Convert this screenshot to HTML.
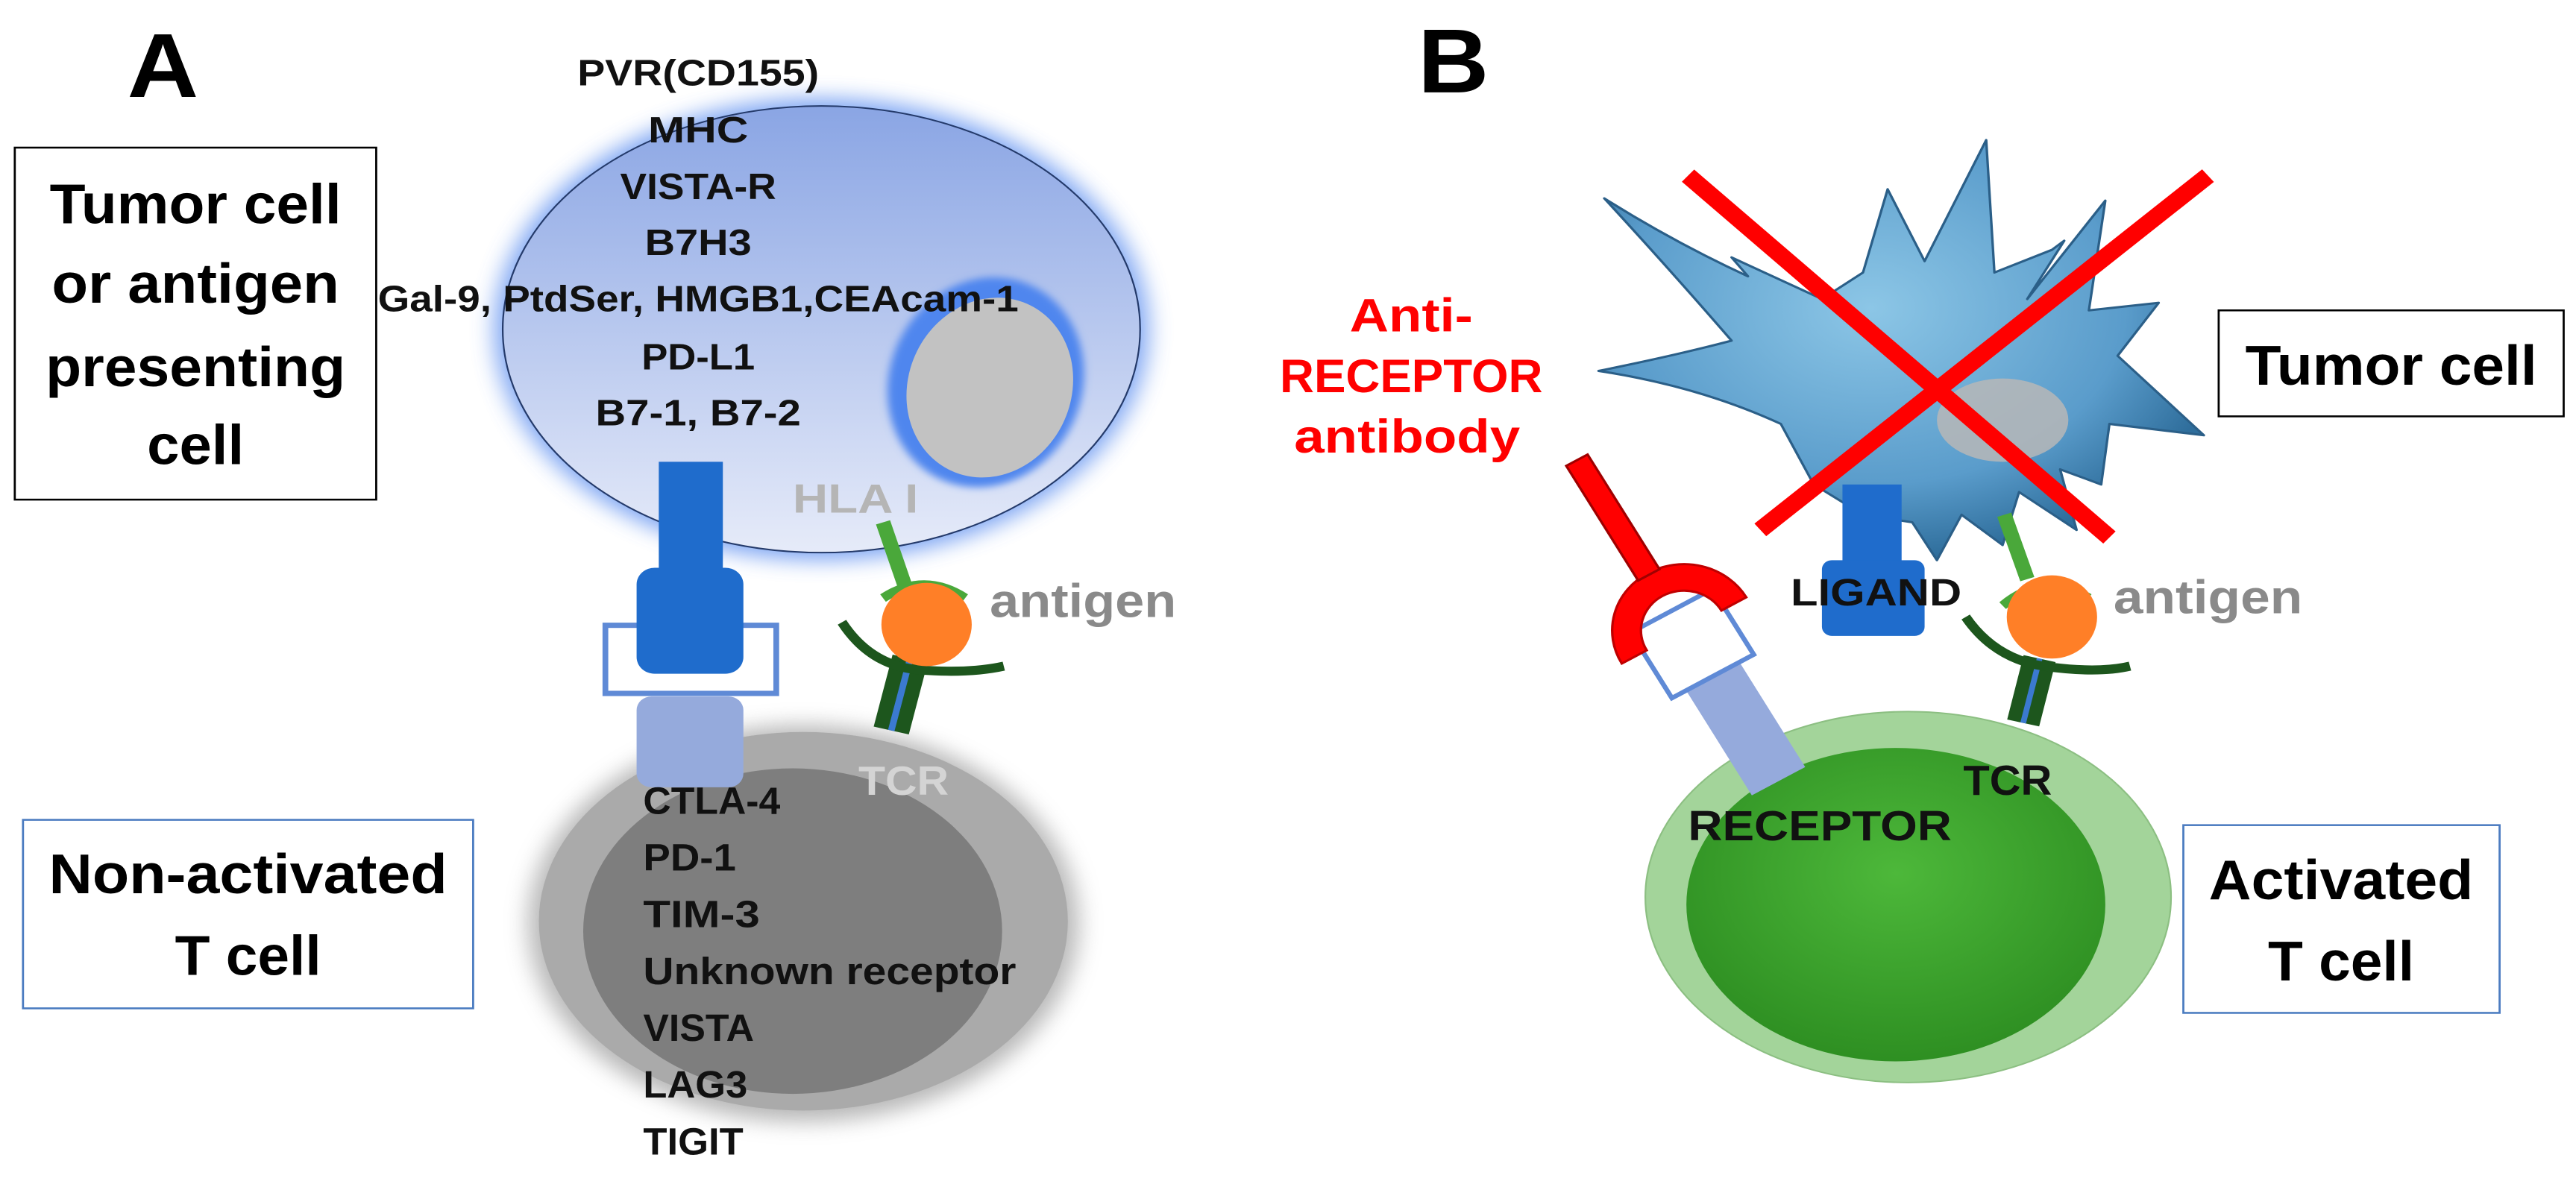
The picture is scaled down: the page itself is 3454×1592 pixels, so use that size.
<!DOCTYPE html>
<html><head><meta charset="utf-8"><style>
html,body{margin:0;padding:0;background:#fff;width:3454px;height:1592px;overflow:hidden}
text{font-family:"Liberation Sans",sans-serif;font-weight:bold}
</style></head><body>
<svg width="3454" height="1592" viewBox="0 0 3454 1592" xmlns="http://www.w3.org/2000/svg">
<defs>
<linearGradient id="cellA" x1="0" y1="0" x2="0" y2="1"><stop offset="0" stop-color="#8aa5e4"/><stop offset="1" stop-color="#e6ebf9"/></linearGradient>
<filter id="glow" x="-20%" y="-20%" width="140%" height="140%"><feGaussianBlur stdDeviation="14"/></filter>
<filter id="blur4"><feGaussianBlur stdDeviation="5"/></filter>
<radialGradient id="tum" cx="0.45" cy="0.4" r="0.6"><stop offset="0" stop-color="#8cc6e6"/><stop offset="0.7" stop-color="#5a9ccb"/><stop offset="1" stop-color="#2f6e9c"/></radialGradient>
<radialGradient id="grn" cx="0.5" cy="0.4" r="0.6"><stop offset="0" stop-color="#4db83a"/><stop offset="1" stop-color="#2e8f22"/></radialGradient>
</defs>

<!-- LEFT PANEL -->
<g transform="scale(1.1014,1.0153)">
<text x="155" y="128" font-size="120">A</text>
<rect x="18" y="195" width="440" height="465" fill="none" stroke="#000" stroke-width="2.5"/>
<g font-size="74" text-anchor="middle">
<text x="238" y="295" textLength="355" lengthAdjust="spacingAndGlyphs">Tumor cell</text>
<text x="238" y="400" textLength="350" lengthAdjust="spacingAndGlyphs">or antigen</text>
<text x="238" y="510" textLength="365" lengthAdjust="spacingAndGlyphs">presenting</text>
<text x="238" y="613" textLength="118" lengthAdjust="spacingAndGlyphs">cell</text>
</g>
<ellipse cx="1000" cy="435" rx="398" ry="305" fill="#5d8ff0" filter="url(#glow)" opacity="0.8"/>
<ellipse cx="1000" cy="435" rx="388" ry="295" fill="url(#cellA)" stroke="#243a6a" stroke-width="2"/>
<ellipse cx="1200" cy="505" rx="118" ry="140" transform="rotate(15 1200 505)" fill="#4f86ee" filter="url(#blur4)"/>
<ellipse cx="1205" cy="512" rx="100" ry="120" transform="rotate(15 1205 512)" fill="#c2c2c2"/>
<g font-size="48" text-anchor="middle" fill="#111">
<text x="850" y="113" textLength="294" lengthAdjust="spacingAndGlyphs">PVR(CD155)</text>
<text x="850" y="188" textLength="122" lengthAdjust="spacingAndGlyphs">MHC</text>
<text x="850" y="263" textLength="190" lengthAdjust="spacingAndGlyphs">VISTA-R</text>
<text x="850" y="337" textLength="130" lengthAdjust="spacingAndGlyphs">B7H3</text>
<text x="850" y="411" textLength="780" lengthAdjust="spacingAndGlyphs">Gal-9, PtdSer, HMGB1,CEAcam-1</text>
<text x="850" y="488" textLength="138" lengthAdjust="spacingAndGlyphs">PD-L1</text>
<text x="850" y="562" textLength="250" lengthAdjust="spacingAndGlyphs">B7-1, B7-2</text>
</g>
<text x="965" y="677" font-size="54" fill="#b5b5b5" textLength="153" lengthAdjust="spacingAndGlyphs">HLA I</text>
<ellipse cx="978" cy="1220" rx="335" ry="262" fill="#999" filter="url(#glow)" opacity="0.7"/>
<ellipse cx="978" cy="1217" rx="322" ry="250" fill="#aaaaaa"/>
<ellipse cx="965" cy="1230" rx="255" ry="215" fill="#7e7e7e"/>
<rect x="775" y="920" width="130" height="120" rx="18" fill="#95aadc"/>
<rect x="737" y="826" width="208" height="90" fill="#fff" stroke="#5f8ad6" stroke-width="7"/>
<rect x="802" y="610" width="78" height="160" fill="#1f6ccc"/>
<rect x="775" y="750" width="130" height="140" rx="22" fill="#1f6ccc"/>
<line x1="1075" y1="690" x2="1102" y2="775" stroke="#4aa83a" stroke-width="18"/>
<path d="M1075 790 Q1125 755 1175 790" fill="none" stroke="#4aa83a" stroke-width="12"/>
<line x1="1108" y1="870" x2="1085" y2="965" stroke="#1d561d" stroke-width="44"/>
<line x1="1108" y1="870" x2="1085" y2="965" stroke="#3b7ad0" stroke-width="8"/>
<path d="M1025 822 Q1060 880 1120 885 Q1180 890 1222 880" fill="none" stroke="#1d561d" stroke-width="12"/>
<circle cx="1128" cy="825" r="55" fill="#ff7f27"/>
<text x="1205" y="815" font-size="62" fill="#8a8a8a" textLength="227" lengthAdjust="spacingAndGlyphs">antigen</text>
<text x="1045" y="1050" font-size="54" fill="#d4d4d4" textLength="110" lengthAdjust="spacingAndGlyphs">TCR</text>
<g font-size="50" fill="#111">
<text x="783" y="1075" textLength="167" lengthAdjust="spacingAndGlyphs">CTLA-4</text>
<text x="783" y="1150" textLength="113" lengthAdjust="spacingAndGlyphs">PD-1</text>
<text x="783" y="1225" textLength="142" lengthAdjust="spacingAndGlyphs">TIM-3</text>
<text x="783" y="1300" textLength="454" lengthAdjust="spacingAndGlyphs">Unknown receptor</text>
<text x="783" y="1375" textLength="135" lengthAdjust="spacingAndGlyphs">VISTA</text>
<text x="783" y="1450" textLength="127" lengthAdjust="spacingAndGlyphs">LAG3</text>
<text x="783" y="1525" textLength="122" lengthAdjust="spacingAndGlyphs">TIGIT</text>
</g>
<rect x="28" y="1083" width="548" height="249" fill="none" stroke="#4a7bc0" stroke-width="2.5"/>
<g font-size="74" text-anchor="middle">
<text x="302" y="1180" textLength="485" lengthAdjust="spacingAndGlyphs">Non-activated</text>
<text x="302" y="1288" textLength="178" lengthAdjust="spacingAndGlyphs">T cell</text>
</g>
</g>

<!-- RIGHT PANEL -->
<g transform="translate(1727,0) scale(1.1014,1.0153)">
<text x="158" y="122" font-size="120">B</text>
<path d="M385 262 Q470 320 560 365 L540 340 Q600 370 650 395 L700 360 L730 250 L775 345 L850 185 L860 360 L930 330 L945 318 L900 395 L995 265 L975 410 L1060 400 L1010 470 L1115 575 L1000 560 L990 640 L940 620 L960 700 L890 650 L870 720 L820 680 L790 740 L760 690 L700 680 L640 640 L600 560 Q500 510 378 490 Q470 470 540 450 Q460 350 385 262 Z" fill="url(#tum)" stroke="#2b5f88" stroke-width="3" stroke-linejoin="round"/>
<ellipse cx="870" cy="555" rx="80" ry="55" fill="#b7b7b7" opacity="0.85"/>
<rect x="675" y="640" width="72" height="110" fill="#1f6ccc"/>
<rect x="650" y="740" width="125" height="100" rx="12" fill="#1f6ccc"/>
<text x="612" y="800" font-size="50" fill="#111" textLength="208" lengthAdjust="spacingAndGlyphs">LIGAND</text>
<line x1="487" y1="232" x2="1000" y2="710" stroke="#ff0000" stroke-width="22"/>
<line x1="1120" y1="232" x2="575" y2="700" stroke="#ff0000" stroke-width="22"/>
<ellipse cx="755" cy="1185" rx="320" ry="245" fill="#a3d49a" stroke="#8cbf82" stroke-width="2"/>
<ellipse cx="740" cy="1195" rx="255" ry="207" fill="url(#grn)"/>
<g transform="rotate(-30 495 860)">
<rect x="460" y="900" width="75" height="160" fill="#95aadc"/>
<rect x="440" y="800" width="115" height="100" fill="#fff" stroke="#5f8ad6" stroke-width="6"/>
<path d="M410 830 A87 87 0 0 1 585 830 L550 830 A52 52 0 0 0 445 830 Z" fill="#ff0000" stroke="#c00000" stroke-width="3"/>
<rect x="482" y="570" width="30" height="175" fill="#ff0000" stroke="#a00000" stroke-width="3"/>
</g>
<line x1="872" y1="680" x2="900" y2="765" stroke="#4aa83a" stroke-width="18"/>
<path d="M870 800 Q920 755 975 790" fill="none" stroke="#4aa83a" stroke-width="12"/>
<line x1="915" y1="870" x2="895" y2="955" stroke="#1d561d" stroke-width="40"/>
<line x1="915" y1="870" x2="895" y2="955" stroke="#3b7ad0" stroke-width="7"/>
<path d="M825 815 Q860 870 920 880 Q985 890 1025 880" fill="none" stroke="#1d561d" stroke-width="12"/>
<circle cx="930" cy="815" r="55" fill="#ff7f27"/>
<text x="1005" y="810" font-size="62" fill="#8a8a8a" textLength="230" lengthAdjust="spacingAndGlyphs">antigen</text>
<text x="822" y="1050" font-size="56" fill="#111" textLength="108" lengthAdjust="spacingAndGlyphs">TCR</text>
<text x="487" y="1110" font-size="56" fill="#111" textLength="321" lengthAdjust="spacingAndGlyphs">RECEPTOR</text>
<g font-size="62" fill="#ff0000" text-anchor="middle">
<text x="150" y="438" textLength="150" lengthAdjust="spacingAndGlyphs">Anti-</text>
<text x="150" y="518" textLength="320" lengthAdjust="spacingAndGlyphs">RECEPTOR</text>
<text x="145" y="598" textLength="275" lengthAdjust="spacingAndGlyphs">antibody</text>
</g>
<rect x="1133" y="410" width="420" height="140" fill="none" stroke="#000" stroke-width="2.5"/>
<text x="1343" y="508" font-size="74" text-anchor="middle" textLength="355" lengthAdjust="spacingAndGlyphs">Tumor cell</text>
<rect x="1090" y="1090" width="385" height="248" fill="none" stroke="#4a7bc0" stroke-width="2.5"/>
<g font-size="74" text-anchor="middle">
<text x="1282" y="1188" textLength="322" lengthAdjust="spacingAndGlyphs">Activated</text>
<text x="1282" y="1295" textLength="178" lengthAdjust="spacingAndGlyphs">T cell</text>
</g>
</g>
</svg>
</body></html>
